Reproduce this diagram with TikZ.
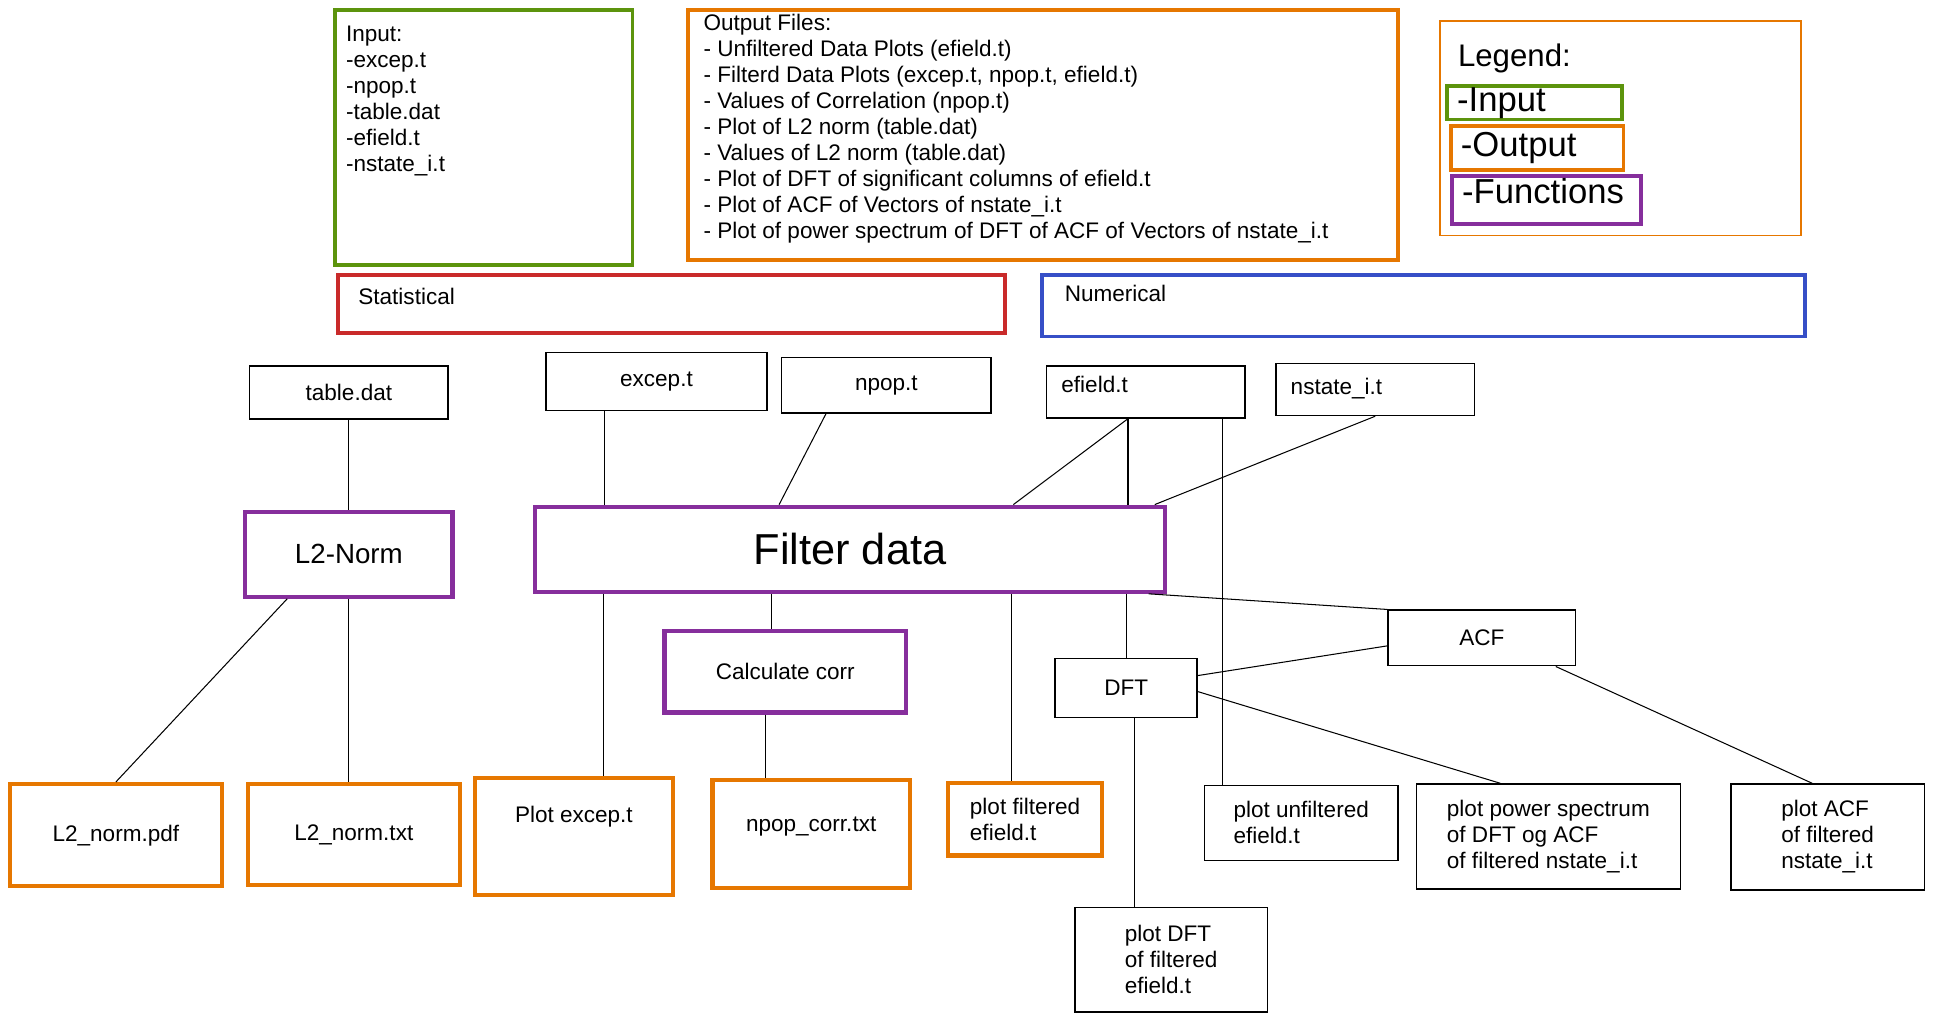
\documentclass[tikz,border=0pt]{standalone}
\usepackage{fontspec}
\setmainfont{Liberation Sans}
\usetikzlibrary{positioning}
\definecolor{exgreen}{HTML}{5C940D}
\definecolor{exorange}{HTML}{E67700}
\definecolor{expurple}{HTML}{862E9C}
\definecolor{exred}{HTML}{C92A2A}
\definecolor{exblue}{HTML}{364FC7}

\begin{document}
\begin{tikzpicture}[node distance=1cm,on grid,
     every node/.style={font=\fontsize{13}{15}\selectfont},
     dims/.style 2 args={minimum width=#1cm,minimum height=#2cm},
     filebox/.style={rectangle,draw,line width=0.9pt,inner sep=0.3cm},
     outbox/.style={rectangle,draw=exorange,line width=2.4pt,align=left},
     funbox/.style={rectangle,draw=expurple,line width=2.4pt},
     panel/.style={rectangle,line width=2.2pt,inner sep=0pt},
     caption/.style={anchor=north west,align=left},
     legitem/.style={rectangle,line width=2.2pt,inner xsep=0.2cm,inner ysep=0pt,
                     align=left,font=\fontsize{20}{24}\selectfont},
     link/.style={line width=0.6pt}]
\useasboundingbox (0,0) rectangle (39.2,-20.75);

%% Functions and data files
  \node [funbox,dims={12.775}{1.725},font=\fontsize{25}{30}\selectfont] (filter) at (17.2375,-11.1375) {Filter data};
  \node [funbox,dims={4.2}{1.725},font=\fontsize{16}{19}\selectfont] (l2norm) [left=10.1625cm of filter,yshift=-0.1cm] {L2-Norm};
  \node [filebox,dims={4.025}{1.075}] (tabledat) [above=3.275cm of l2norm] {table.dat};
  \node [outbox,dims={4.3}{2.075}] (l2pdf) [below left=5.7cm and 4.725cm of l2norm] {L2\_norm.pdf};
  \node [outbox,dims={4.3}{2.05}] (l2txt) [below=5.69cm of l2norm,xshift=0.1cm] {L2\_norm.txt};
  \node [filebox,dims={4.475}{1.175}] (excep) [above left=3.4cm and 3.925cm of filter] {excep.t};
  \node [filebox,dims={4.25}{1.125}] (npop) [right=4.6625cm of excep,yshift=-0.075cm] {npop.t};
  \node [filebox,dims={4.025}{1.05},inner ysep=0.2cm,text width=3.425cm,text depth=0.3cm,align=left] (efield) [above right=3.1875cm and 6cm of filter] {efield.t};
  \node [filebox,dims={4.025}{1.05},inner ysep=0.2cm,text width=3.425cm,text depth=0.15cm,align=left] (nstate) [right=4.65cm of efield,yshift=0.05cm] {nstate\_i.t};
  \node [funbox,dims={4.9}{1.65}] (corr) [below left=2.4875cm and 1.3125cm of filter] {Calculate corr};
  \node [filebox,dims={2.875}{1.2}] (dft) [below right=2.8125cm and 5.6cm of filter] {DFT};
  \node [filebox,dims={3.8}{1.125}] (acf) [above right=1.0125cm and 7.2125cm of dft] {ACF};

%% Results
  \node [outbox,dims={4.025}{2.375},text depth=0.9cm] (plotexcep) [below left=5.825cm and 5.6cm of filter] {Plot excep.t};
  \node [outbox,dims={4}{2.175},text depth=0.4cm] (npopcorr) [below right=3.2875cm and 0.525cm of corr] {npop\_corr.txt};
  \node [outbox,dims={3.125}{1.475}] (plotfilt) [below right=5.475cm and 3.55cm of filter] {plot filtered\\efield.t};
  \node [filebox,dims={3.925}{1.525},align=left] (plotunfilt) [below right=2.7375cm and 3.55cm of dft] {plot unfiltered\\efield.t};
  \node [filebox,dims={5.35}{2.125},align=left] (plotpower) [below right=3.0125cm and 8.5625cm of dft] {plot power spectrum\\of DFT og ACF\\of filtered nstate\_i.t};
  \node [filebox,dims={3.925}{2.15},align=left] (plotacf) [below right=4.0375cm and 7.0125cm of acf] {plot ACF\\of filtered\\nstate\_i.t};
  \node [filebox,dims={3.9}{2.125},align=left] (plotdft) [below right=5.5125cm and 0.9125cm of dft] {plot DFT\\of filtered\\efield.t};

%% Groups, lists and legend
  \node [panel,draw=exred,dims={13.525}{1.175},label={[caption,inner xsep=0.45cm,inner ysep=0.3cm]north west:Statistical}] (statistical) [above left=4.975cm and 3.625cm of filter] {};
  \node [panel,draw=exblue,dims={15.475}{1.25},label={[caption,inner xsep=0.5cm,inner ysep=0.24cm]north west:Numerical}] (numerical) [right=15.25cm of statistical,yshift=-0.0375cm] {};
  \node [panel,draw=exgreen,dims={6.025}{5.175},label={[caption,inner xsep=0.25cm,inner ysep=0.36cm]north west:{Input:\\-excep.t\\-npop.t\\-table.dat\\-efield.t\\-nstate\_i.t}}] (inputbox) [above left=3.375cm and 3.8cm of statistical] {};
  \node [panel,draw=exorange,dims={14.4}{5.075},label={[caption,inner xsep=0.35cm,inner ysep=0.11cm]north west:{Output Files:\\- Unfiltered Data Plots (efield.t)\\- Filterd Data Plots (excep.t, npop.t, efield.t)\\- Values of Correlation (npop.t)\\- Plot of L2 norm (table.dat)\\- Values of L2 norm (table.dat)\\- Plot of DFT of significant columns of efield.t\\- Plot of ACF of Vectors of nstate\_i.t\\- Plot of power spectrum of DFT of ACF of Vectors of nstate\_i.t}}] (outputbox) [right=11.3375cm of inputbox,yshift=0.05cm] {};
  \node [panel,draw=exorange,line width=0.8pt,dims={7.325}{4.35},label={[caption,inner xsep=0.375cm,inner ysep=0.47cm,font=\fontsize{18}{22}\selectfont]north west:{Legend:}}] (legend) [right=11.7125cm of outputbox,yshift=0.1375cm] {};
  \node [legitem,draw=exgreen,dims={3.55}{0.675},text width=3.15cm] (legin) [above left=0.5125cm and 1.7375cm of legend] {-Input};
  \node [legitem,draw=exorange,dims={3.5}{0.9},text width=3.1cm] (legout) [below left=0.4cm and 1.6875cm of legend] {-Output};
  \node [legitem,draw=expurple,dims={3.825}{0.975},text width=3.425cm,text depth=0.38cm] (legfun) [below left=1.4625cm and 1.5cm of legend] {-Functions};

%% Connections
  \draw [link] (tabledat) -- (l2norm);
  \draw [link] ([xshift=-1.25cm]l2norm.south) -- (l2pdf.north);
  \draw [link] (l2norm.south) -- (l2norm.south |- l2txt.north);
  \draw [link] ([xshift=-1.05cm]excep.south) -- ([xshift=-1.05cm]excep.south |- filter.north);
  \draw [link] ([xshift=-1.225cm]npop.south) -- ([xshift=-1.4375cm]filter.north);
  \draw [link] ([xshift=-0.3625cm]efield.south) -- ([xshift=3.3125cm]filter.north);
  \draw [link] ([xshift=-0.3625cm]efield.south) -- ([xshift=-0.3625cm]efield.south |- filter.north);
  \draw [link] (nstate.south) -- ([xshift=-0.25cm]filter.north east);
  \draw [link] ([xshift=1.5625cm]efield.south) -- ([xshift=1.5625cm]efield.south |- plotunfilt.north);
  \draw [link] ([xshift=-5cm]filter.south) -- ([xshift=-5cm]filter.south |- plotexcep.north);
  \draw [link] ([xshift=-1.6cm]filter.south) -- ([xshift=-1.6cm]filter.south |- corr.north);
  \draw [link] ([xshift=-0.4cm]corr.south) -- ([xshift=-0.4cm]corr.south |- npopcorr.north);
  \draw [link] ([xshift=3.28cm]filter.south) -- ([xshift=3.28cm]filter.south |- plotfilt.north);
  \draw [link] (dft.north |- filter.south) -- (dft.north);
  \draw [link] ([xshift=-0.375cm]filter.south east) -- (acf.north west);
  \draw [link] ([yshift=-0.16cm]acf.west) -- ([yshift=0.25cm]dft.east);
  \draw [link] ([yshift=-0.075cm]dft.east) -- ([xshift=-0.975cm]plotpower.north);
  \draw [link] ([xshift=1.5cm]acf.south) -- ([xshift=-0.3125cm]plotacf.north);
  \draw [link] ([xshift=0.16cm]dft.south) -- ([xshift=0.16cm]dft.south |- plotdft.north);
\end{tikzpicture}
\end{document}
